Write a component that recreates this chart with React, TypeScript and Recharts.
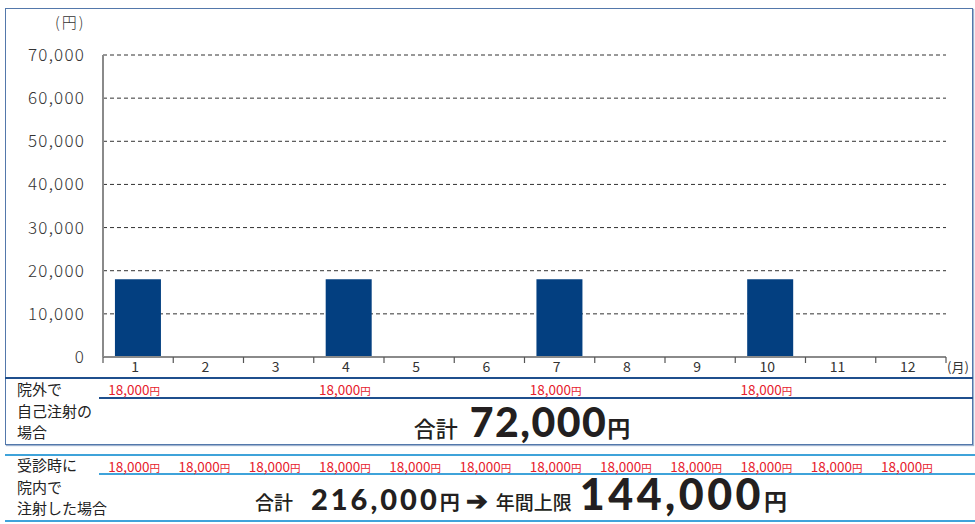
import React from "react"
import { BarChart, Bar, XAxis, YAxis, CartesianGrid } from "recharts"

const months = ["1", "2", "3", "4", "5", "6", "7", "8", "9", "10", "11", "12"]
const outsideCost = [18000, 0, 0, 18000, 0, 0, 18000, 0, 0, 18000, 0, 0]
const insideCost = [18000, 18000, 18000, 18000, 18000, 18000, 18000, 18000, 18000, 18000, 18000, 18000]
const yTicks = [0, 10000, 20000, 30000, 40000, 50000, 60000, 70000]
const annualCap = 144000

const data = months.map((m, i) => ({ month: m, cost: outsideCost[i] }))

const FONT = '"Noto Sans CJK JP", "Noto Sans", sans-serif'
const NUM_FONT = 'Lato, "Open Sans", sans-serif'
const PLOT_LEFT = 103
const PLOT_RIGHT = 946
const BAND = (PLOT_RIGHT - PLOT_LEFT) / months.length
const RED = "#e6202c"
const TEXT = "#231f20"

const fmt = (v: number) => v.toLocaleString("en-US")

const MonthTick = (props: any) => {
  const { x, y, payload, index } = props
  const left = x - BAND / 2
  const right = x + BAND / 2
  return (
    <g>
      <line x1={left} y1={y} x2={left} y2={y + 6} stroke="#555" strokeWidth={1.2} />
      {index === months.length - 1 && (
        <>
          <line x1={right} y1={y} x2={right} y2={y + 6} stroke="#555" strokeWidth={1.2} />
          <text x={right + 1} y={y + 15} fontSize={13} fill="#333" fontFamily={FONT}>
            (月)
          </text>
        </>
      )}
      <text x={x - 3} y={y + 15} textAnchor="middle" fontSize={14} fill="#333" fontFamily={FONT}>
        {payload.value}
      </text>
    </g>
  )
}

const Yen = ({ value }: { value: number }) => (
  <span style={{ color: RED, fontSize: 13.5, whiteSpace: "nowrap" }}>
    {fmt(value)}
    <span style={{ fontSize: 10.5 }}>円</span>
  </span>
)

const costRow = (costs: number[], top: number) =>
  costs.map((c, i) =>
    c > 0 ? (
      <div
        key={`${top}-${i}`}
        style={{
          position: "absolute",
          left: PLOT_LEFT + (i + 0.5) * BAND - 4,
          top,
          transform: "translateX(-50%)",
          lineHeight: "16px",
        }}
      >
        <Yen value={c} />
      </div>
    ) : null
  )

const hLine = (left: number, top: number, width: number, color: string, h = 1.5) => (
  <div style={{ position: "absolute", left, top, width, height: h, background: color }} />
)

const sideLabel = (lines: string[], top: number) => (
  <div
    style={{
      position: "absolute",
      left: 17,
      top,
      fontSize: 15,
      lineHeight: "21.5px",
      color: "#222",
    }}
  >
    {lines.map((l) => (
      <div key={l}>{l}</div>
    ))}
  </div>
)

const jp = (s: string, size: number) => (
  <span style={{ fontFamily: FONT, fontSize: size, fontWeight: 500 }}>{s}</span>
)
const big = (v: number, size: number, spacing: number) => (
  <span style={{ fontFamily: NUM_FONT, fontSize: size, fontWeight: 900, letterSpacing: spacing }}>
    {fmt(v)}
  </span>
)
const yen = (size: number) => (
  <span style={{ fontFamily: FONT, fontSize: size, fontWeight: 700 }}>円</span>
)

const totalLine = (centerX: number, baseline: number, children: React.ReactNode) => (
  <div
    style={{
      position: "absolute",
      left: centerX,
      top: baseline,
      transform: "translate(-50%, -100%)",
      display: "flex",
      alignItems: "baseline",
      color: TEXT,
      whiteSpace: "nowrap",
      lineHeight: 1,
    }}
  >
    {children}
  </div>
)

export default function App() {
  const outsideTotal = outsideCost.reduce((a, b) => a + b, 0)
  const insideTotal = insideCost.reduce((a, b) => a + b, 0)
  const darkBlue = "#1f4f8d"
  const lightBlue = "#3fa3da"

  return (
    <div
      style={{
        position: "absolute",
        left: 0,
        top: 0,
        width: 975,
        height: 524,
        background: "#fff",
        fontFamily: FONT,
        overflow: "hidden",
      }}
    >
      <div
        style={{
          position: "absolute",
          left: 5,
          top: 8,
          width: 966,
          height: 435,
          border: "1.5px solid #5378ab",
          boxShadow: "1px 1px 1px #9fb3cf",
        }}
      />
      <div style={{ position: "absolute", left: 0, top: 0 }}>
        <BarChart
          width={975}
          height={400}
          data={data}
          margin={{ top: 55, right: 975 - PLOT_RIGHT, left: 0, bottom: 13 }}
          barCategoryGap="17%"
        >
          <CartesianGrid
            horizontal={true}
            vertical={false}
            stroke="#333"
            strokeDasharray="4 3"
            strokeWidth={1}
          />
          <YAxis
            width={PLOT_LEFT}
            domain={[0, 70000]}
            ticks={yTicks}
            tickFormatter={fmt}
            tickLine={false}
            tickSize={0}
            tickMargin={18}
            axisLine={{ stroke: "#8a8a8a", strokeWidth: 2 }}
            tick={{ fontSize: 17, fill: "#333", fontFamily: FONT, fontWeight: 300, letterSpacing: 1.2 }}
            interval={0}
          />
          <XAxis
            dataKey="month"
            height={30}
            tickLine={false}
            tickSize={0}
            tickMargin={0}
            interval={0}
            axisLine={{ stroke: "#8a8a8a", strokeWidth: 2 }}
            tick={<MonthTick />}
          />
          <Bar dataKey="cost" fill="#033f80" isAnimationActive={false} />
        </BarChart>
      </div>

      <div style={{ position: "absolute", left: 55, top: 11, fontSize: 15, color: "#333", fontWeight: 300, letterSpacing: 2 }}>
        (円)
      </div>

      {hLine(5, 377, 968, darkBlue)}
      {hLine(99, 397, 874, darkBlue)}
      {sideLabel(["院外で", "自己注射の", "場合"], 378)}
      {costRow(outsideCost, 380)}
      {totalLine(
        522,
        442,
        <>
          {jp("合計", 22)}
          <span style={{ width: 12 }} />
          {big(outsideTotal, 41, 1.5)}
          {yen(23)}
        </>
      )}

      {hLine(5, 454, 970, lightBlue, 2)}
      {hLine(99, 473, 876, lightBlue, 2)}
      {hLine(5, 520, 970, lightBlue, 2)}
      {sideLabel(["受診時に", "院内で", "注射した場合"], 454)}
      {costRow(insideCost, 457)}
      {totalLine(
        521,
        515,
        <>
          {jp("合計", 19)}
          <span style={{ width: 18 }} />
          {big(insideTotal, 29, 3)}
          {yen(20)}
          <span style={{ width: 6 }} />
          <span style={{ fontFamily: FONT, fontSize: 26, fontWeight: 900 }}>➔</span>
          <span style={{ width: 8 }} />
          {jp("年間上限", 19)}
          <span style={{ width: 8 }} />
          {big(annualCap, 43, 3.5)}
          {yen(23)}
        </>
      )}
    </div>
  )
}
